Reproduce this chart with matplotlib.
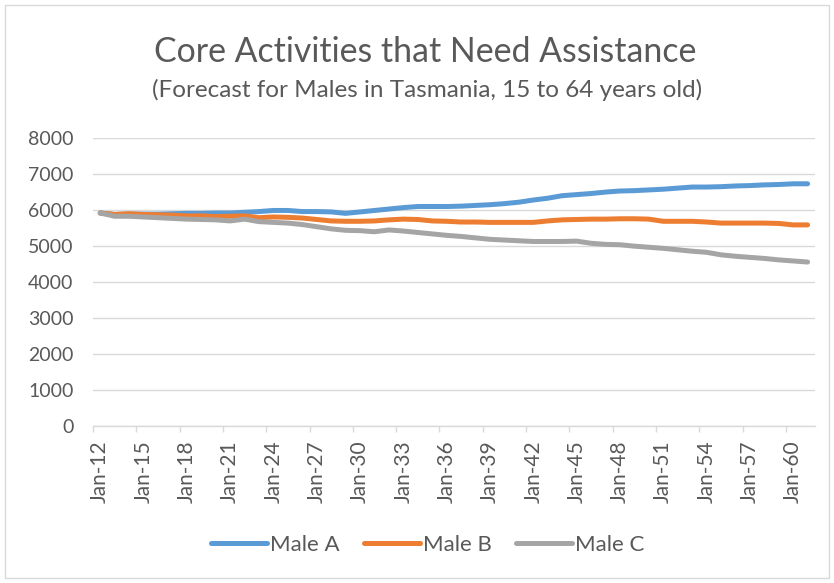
import matplotlib
matplotlib.use("Agg")
import matplotlib.pyplot as plt
from matplotlib.patches import Rectangle

plt.rcParams['font.family'] = ['Lato', 'DejaVu Sans']

years = list(range(2012, 2062))

male_a = [5920, 5880, 5890, 5890, 5890, 5900, 5910, 5910, 5920, 5920,
          5940, 5960, 5990, 5990, 5960, 5960, 5950, 5910, 5950, 5990,
          6030, 6070, 6100, 6100, 6100, 6110, 6130, 6150, 6180, 6220,
          6280, 6330, 6400, 6430, 6460, 6500, 6530, 6540, 6560, 6580,
          6610, 6640, 6640, 6650, 6670, 6680, 6700, 6710, 6730, 6730]

male_b = [5920, 5880, 5900, 5880, 5870, 5860, 5840, 5840, 5820, 5830,
          5840, 5790, 5810, 5800, 5780, 5740, 5700, 5690, 5690, 5700,
          5730, 5750, 5740, 5700, 5690, 5670, 5670, 5660, 5660, 5660,
          5660, 5700, 5730, 5740, 5750, 5750, 5760, 5760, 5750, 5690,
          5690, 5690, 5670, 5640, 5640, 5640, 5640, 5630, 5590, 5590]

male_c = [5920, 5830, 5830, 5810, 5790, 5770, 5750, 5740, 5730, 5700,
          5750, 5680, 5660, 5640, 5600, 5540, 5480, 5440, 5430, 5400,
          5450, 5420, 5380, 5340, 5300, 5270, 5230, 5190, 5170, 5150,
          5130, 5130, 5130, 5140, 5080, 5050, 5040, 5000, 4970, 4940,
          4900, 4860, 4830, 4760, 4720, 4690, 4660, 4620, 4590, 4560]

series_names = ["Male A", "Male B", "Male C"]
series_colors = ["#5B9BD5", "#ED7D31", "#A5A5A5"]

label_years = list(range(2012, 2061, 3))
tick_labels = [f"Jan-{y % 100:02d}" for y in label_years]

title = "Core Activities that Need Assistance"
subtitle = "(Forecast for Males in Tasmania, 15 to 64 years old)"

text_color = "#595959"
grid_color = "#D9D9D9"

fig = plt.figure(figsize=(8.34, 5.83), dpi=100)
fig.patch.set_facecolor("white")

# chart border
fig.patches.append(Rectangle((0.006, 0.008), 0.988, 0.984, transform=fig.transFigure,
                             fill=False, edgecolor="#D9D9D9", linewidth=1.0))

ax = fig.add_axes([0.1115, 0.2685, 0.8655, 0.4948])

for vals, name, col in zip([male_a, male_b, male_c], series_names, series_colors):
    ax.plot(years, vals, color=col, linewidth=3.6, label=name,
            solid_capstyle="round", solid_joinstyle="round")

ax.set_xlim(years[0] - 0.5, years[-1] + 0.5)
ax.set_ylim(0, 8000)
ax.set_yticks(range(0, 8001, 1000))
ax.yaxis.grid(True, color=grid_color, linewidth=1.0)
ax.set_axisbelow(True)

# tick marks at category boundaries, labels at category centres
ax.set_xticks([y - 0.5 for y in label_years])
ax.set_xticklabels([])
ax.set_xticks(label_years, minor=True)
ax.set_xticklabels(tick_labels, minor=True, rotation=90, fontsize=15, color=text_color)
ax.tick_params(axis="x", which="major", length=4.5, color=grid_color, width=1)
ax.tick_params(axis="x", which="minor", length=0, pad=10)
ax.tick_params(axis="y", length=0, labelsize=14, labelcolor=text_color, pad=14)

for side in ["top", "right", "left"]:
    ax.spines[side].set_visible(False)
ax.spines["bottom"].set_color(grid_color)
ax.spines["bottom"].set_linewidth(1.0)

fig.text(0.51, 0.911, title, ha="center", va="center", fontsize=24.4, color=text_color)
fig.text(0.512, 0.846, subtitle, ha="center", va="center", fontsize=17.5, color=text_color)

fig.legend(loc="center", bbox_to_anchor=(0.513, 0.065), ncol=3, frameon=False,
           fontsize=16, handlelength=2.5, handletextpad=0.15, columnspacing=1.1,
           labelcolor=text_color)

fig.savefig("out.png", dpi=100, facecolor="white")
